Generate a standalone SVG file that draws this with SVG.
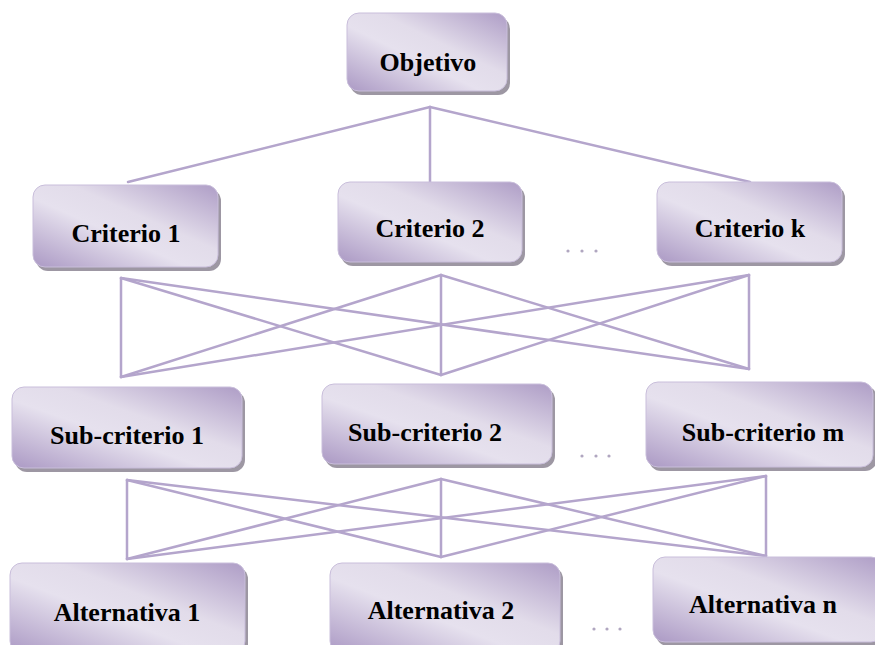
<svg xmlns="http://www.w3.org/2000/svg" width="875" height="645" viewBox="0 0 875 645">
<defs>
<linearGradient id="g" x1="0" y1="1" x2="1" y2="0">
<stop offset="0" stop-color="#ab99c4"/>
<stop offset="0.42" stop-color="#e6e1ee"/>
<stop offset="0.6" stop-color="#e2dcea"/>
<stop offset="1" stop-color="#ae9dc6"/>
</linearGradient>
</defs>
<style>
.box{fill:url(#g);stroke:#c9bedb;stroke-width:1}
.sh{fill:#9d97a3}
.t{font-family:"Liberation Serif","Times New Roman",serif;font-weight:bold;font-size:26px;fill:#000;text-anchor:middle}
.c line{stroke:#b4a5cc;stroke-width:2.5;stroke-linecap:round}
.d{fill:#b0a6c0}
</style>
<g class="c" id="connectors">
<line x1="430" y1="107" x2="128" y2="182"/>
<line x1="430" y1="107" x2="430" y2="182"/>
<line x1="430" y1="107" x2="750" y2="182"/>
<line x1="121" y1="278" x2="121" y2="377"/>
<line x1="121" y1="278" x2="441" y2="375"/>
<line x1="121" y1="278" x2="749" y2="369"/>
<line x1="441" y1="275" x2="121" y2="377"/>
<line x1="441" y1="275" x2="441" y2="375"/>
<line x1="441" y1="275" x2="749" y2="369"/>
<line x1="749" y1="275" x2="121" y2="377"/>
<line x1="749" y1="275" x2="441" y2="375"/>
<line x1="749" y1="275" x2="749" y2="369"/>
<line x1="127" y1="480" x2="127" y2="559"/>
<line x1="127" y1="480" x2="441" y2="557"/>
<line x1="127" y1="480" x2="766" y2="556"/>
<line x1="441" y1="479" x2="127" y2="559"/>
<line x1="441" y1="479" x2="441" y2="557"/>
<line x1="441" y1="479" x2="766" y2="556"/>
<line x1="766" y1="476" x2="127" y2="559"/>
<line x1="766" y1="476" x2="441" y2="557"/>
<line x1="766" y1="476" x2="766" y2="556"/>
</g>
<g id="objetivo">
<rect class="sh" x="350" y="17" width="160" height="78" rx="12"/>
<rect class="box" x="347" y="13" width="160" height="78" rx="12"/>
<text class="t" x="428" y="71">Objetivo</text>
</g>
<g id="criterio1">
<rect class="sh" x="36" y="189" width="185" height="82" rx="12"/>
<rect class="box" x="33" y="185" width="185" height="82" rx="12"/>
<text class="t" x="126" y="242">Criterio 1</text>
</g>
<g id="criterio2">
<rect class="sh" x="341" y="186" width="184" height="80" rx="12"/>
<rect class="box" x="338" y="182" width="184" height="80" rx="12"/>
<text class="t" x="430" y="237">Criterio 2</text>
</g>
<g id="criteriok">
<rect class="sh" x="660" y="186" width="185" height="80" rx="12"/>
<rect class="box" x="657" y="182" width="185" height="80" rx="12"/>
<text class="t" x="750" y="237">Criterio k</text>
</g>
<g id="dots1">
<circle class="d" cx="568" cy="251" r="1.6"/>
<circle class="d" cx="582" cy="251" r="1.6"/>
<circle class="d" cx="596" cy="251" r="1.6"/>
</g>
<g id="subcriterio1">
<rect class="sh" x="15" y="391" width="230" height="81" rx="12"/>
<rect class="box" x="12" y="387" width="230" height="81" rx="12"/>
<text class="t" x="127" y="444">Sub-criterio 1</text>
</g>
<g id="subcriterio2">
<rect class="sh" x="325" y="388" width="230" height="80" rx="12"/>
<rect class="box" x="322" y="384" width="230" height="80" rx="12"/>
<text class="t" x="425" y="441">Sub-criterio 2</text>
</g>
<g id="subcriteriom">
<rect class="sh" x="649" y="386" width="228" height="85" rx="12"/>
<rect class="box" x="646" y="382" width="227" height="85" rx="12"/>
<text class="t" x="763" y="441">Sub-criterio m</text>
</g>
<g id="dots2">
<circle class="d" cx="582" cy="456" r="1.6"/>
<circle class="d" cx="596" cy="456" r="1.6"/>
<circle class="d" cx="609" cy="456" r="1.6"/>
</g>
<g id="alternativa1">
<rect class="sh" x="13" y="567" width="235" height="90" rx="12"/>
<rect class="box" x="10" y="563" width="235" height="90" rx="12"/>
<text class="t" x="127" y="621">Alternativa 1</text>
</g>
<g id="alternativa2">
<rect class="sh" x="333" y="567" width="230" height="90" rx="12"/>
<rect class="box" x="330" y="563" width="230" height="90" rx="12"/>
<text class="t" x="441" y="619">Alternativa 2</text>
</g>
<g id="alternativan">
<rect class="sh" x="656" y="561" width="230" height="85" rx="12"/>
<rect class="box" x="653" y="557" width="230" height="85" rx="12"/>
<text class="t" x="763" y="613">Alternativa n</text>
</g>
<g id="dots3">
<circle class="d" cx="594" cy="629" r="1.6"/>
<circle class="d" cx="607" cy="629" r="1.6"/>
<circle class="d" cx="620" cy="629" r="1.6"/>
</g>
</svg>
